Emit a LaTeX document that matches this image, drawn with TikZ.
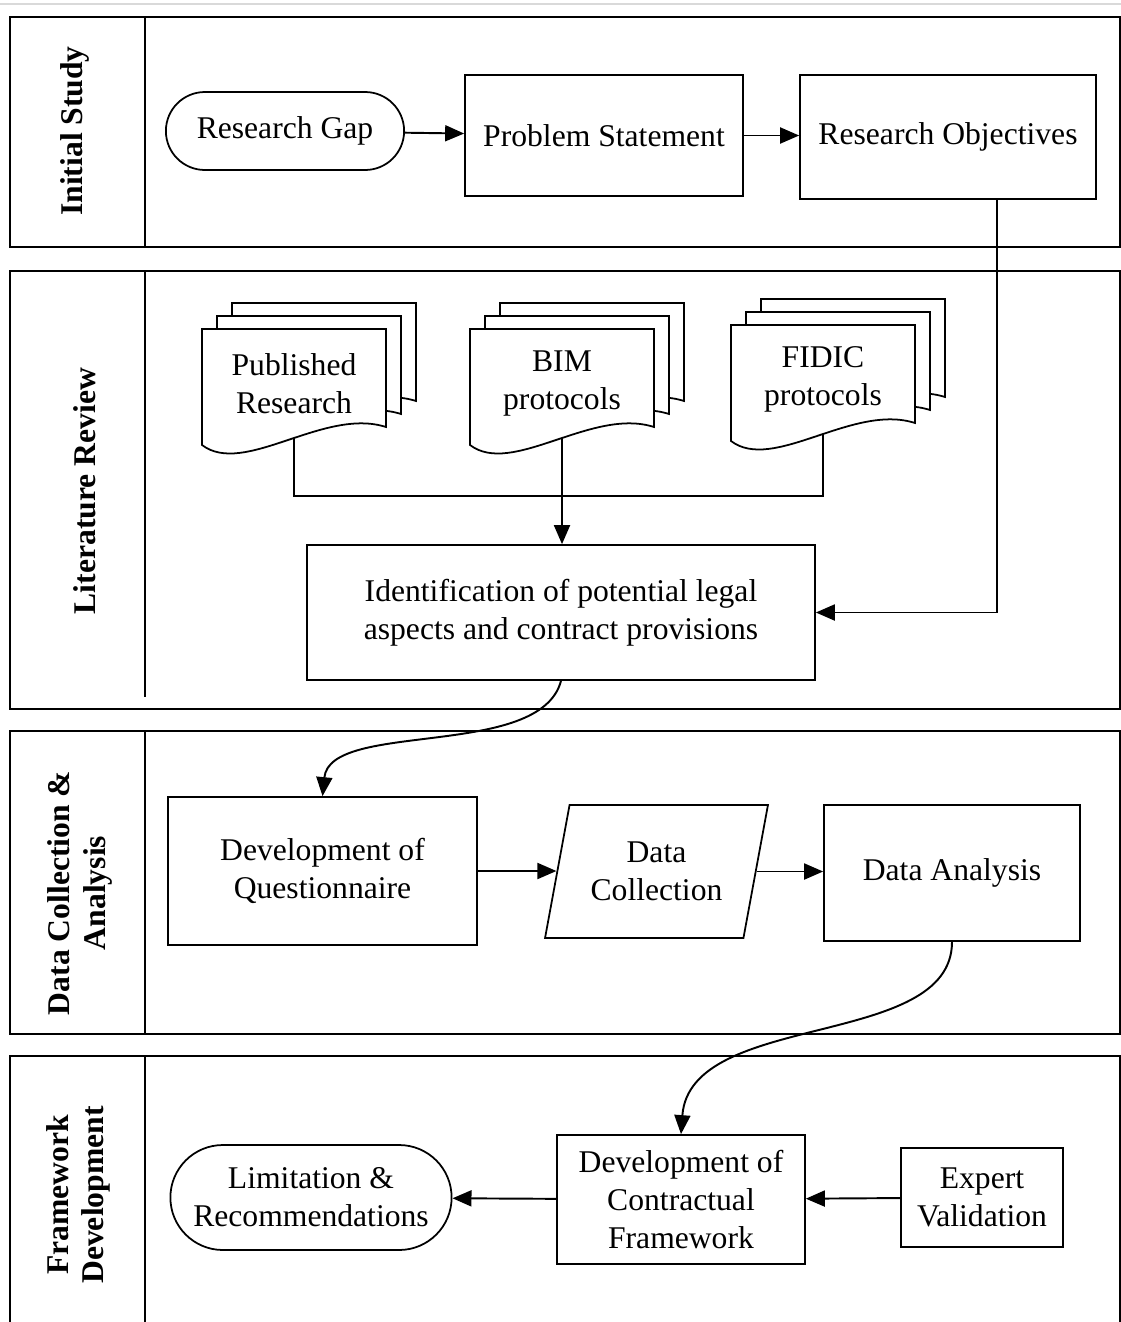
\documentclass[tikz,border=0pt]{standalone}
\usepackage{fontspec}
\setmainfont{Liberation Serif}
\usetikzlibrary{arrows.meta,shapes.geometric,shapes.misc}

\begin{document}
\begin{tikzpicture}[
    x = .02cm, y = -.02cm,
    every node/.style = {font = \fontsize{18}{21.5}\selectfont, align = center},
    box/.style = {rectangle, draw, line width = 1pt, inner sep = 2pt},
    term/.style = {rounded rectangle, draw, line width = 1pt},
    io/.style = {trapezium, trapezium stretches = true, trapezium left angle = 74,
      trapezium right angle = 106, draw, line width = 1pt},
    lanelab/.style = {rotate = 90, font = \fontsize{18}{20}\selectfont\bfseries},
    doctext/.style = {inner sep = 0pt, minimum width = 3.7cm, minimum height = 2.18cm},
    sheet/.style = {draw, fill = white, line width = 1pt},
    lane/.style = {line width = 1pt},
    link/.style = {line width = 1.1pt},
    arr/.style = {line width = 1.1pt, -{Triangle[length = .38cm, width = .32cm]}}
  ]
    \path[use as bounding box] (0,0) rectangle (1121,1322);
    \draw[gray!30, line width = 1pt] (0,4) -- (1121,4);

    % lanes
    \draw[lane] (10,17) rectangle (1120,247) (145,17) -- (145,247);
    \draw[lane] (10,271) rectangle (1120,709) (145,271) -- (145,697);
    \draw[lane] (10,731) rectangle (1120,1034) (145,731) -- (145,1034);
    \draw[lane] (10,1330) |- (1120,1056) -- (1120,1330) (145,1056) -- (145,1330);
    \node[lanelab] (lab1) at (75,131) {Initial Study};
    \node[lanelab] (lab2) at (85,491) {Literature Review};
    \node[lanelab] (lab3) at (80,893) {Data Collection \&\\Analysis};
    \node[lanelab] (lab4) at (78,1195) {Framework\\Development};

    % initial study
    \node[term, minimum width = 5cm, minimum height = 1.56cm] (gap) at (285,131) {Research Gap}; % 0
    \node[box, minimum width = 5.56cm, minimum height = 2.42cm] (prob) at (604,135.5) {Problem Statement}; % 1
    \node[box, minimum width = 5.92cm, minimum height = 2.48cm] (obj) at (948,137) {Research Objectives}; % 2

    % literature review
    \foreach \x/\y in {294/387, 562/387, 823/383}
      \foreach \d in {2,1,0}
        \draw[sheet, shift = {(\x+15*\d,\y-13*\d)}]
          (-92,-58) -- (92,-58) -- (92,40) .. controls (30,20) and (-50,90) .. (-92,58) -- cycle;
    \node[doctext] (pub) at (294,383.5) {Published\\Research}; % 3
    \node[doctext] (bim) at (562,383.5) {BIM\\protocols}; % 4
    \node[doctext] (fid) at (823,379.5) {FIDIC\\protocols}; % 5
    \node[box, minimum width = 10.16cm, minimum height = 2.7cm] (ident) at (561,612.5)
      {Identification of potential legal\\aspects and contract provisions}; % 6
    \coordinate (join) at (562,496);

    % data collection
    \node[box, minimum width = 6.18cm, minimum height = 2.96cm] (quest) at (322.5,871) {Development of\\Questionnaire}; % 7
    \node[io, minimum width = 4.46cm, minimum height = 2.66cm] (coll) at (656.5,871.5) {Data\\Collection}; % 8
    \node[box, minimum width = 5.12cm, minimum height = 2.72cm] (anal) at (952,873) {Data Analysis}; % 9

    % framework
    \node[box, minimum width = 4.96cm, minimum height = 2.58cm] (frame) at (681,1199.5)
      {Development of\\Contractual\\Framework}; % 10
    \node[box, minimum width = 3.24cm, minimum height = 1.98cm] (valid) at (982,1197.5) {Expert\\Validation}; % 11
    \node[term, minimum width = 5.86cm, minimum height = 2.1cm] (limit) at (311,1197.5)
      {Limitation \&\\Recommendations}; % 12

    \draw[arr] (gap) -- (prob);
    \draw[arr] (prob.east) -- (prob.east -| obj.west);
    \draw[arr] ([xshift = .98cm]obj.south) |- (ident.east);
    \draw[link] (pub.south) |- (join);
    \draw[link] (fid.south) |- (join);
    \draw[arr] (bim.south) -- (bim.south |- ident.north);
    \draw[arr] (ident.south) .. controls (540,760) and (330,720) .. (quest.north);
    \draw[arr] (quest.east) -- (quest.east -| coll.west);
    \draw[arr] (coll.east) -- (coll.east -| anal.west);
    \draw[arr] (anal.south) .. controls (952,1050) and (690,1010) .. (frame.north);
    \draw[arr] (valid) -- (frame);
    \draw[arr] (frame) -- (limit);
  \end{tikzpicture}
\end{document}
